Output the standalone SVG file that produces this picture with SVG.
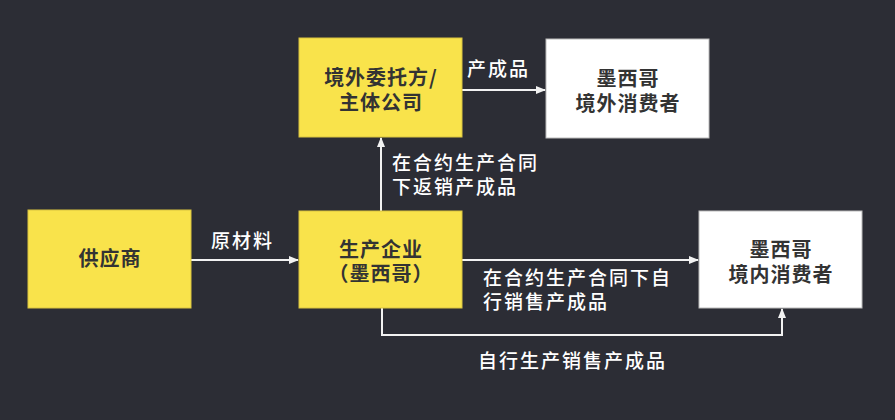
<svg xmlns="http://www.w3.org/2000/svg" width="895" height="420" viewBox="0 0 895 420">
<style>
.bg{fill:#2c2d35}
.y{fill:#f9e34b;stroke:#d9c440;stroke-width:1}
.w{fill:#ffffff;stroke:#bbbbbb;stroke-width:1}
.nt{font-family:"Noto Sans CJK SC","Noto Sans",sans-serif;font-size:20px;font-weight:bold;fill:#333333;text-anchor:middle;letter-spacing:1px}
.lb{font-family:"Noto Sans CJK SC","Noto Sans",sans-serif;font-size:19px;font-weight:500;fill:#ffffff;letter-spacing:2px}
.ln{fill:none;stroke:#f2f2f2;stroke-width:2}
</style>
<defs>
<marker id="ah" markerWidth="10" markerHeight="10" refX="9" refY="5" orient="auto" markerUnits="userSpaceOnUse">
<path d="M0,1 L10,5 L0,9 Z" fill="#f2f2f2"/>
</marker>
</defs>
<rect class="bg" x="0" y="0" width="895" height="420"/>
<g id="connectors">
<line class="ln" x1="191" y1="260" x2="298" y2="260" marker-end="url(#ah)"/>
<line class="ln" x1="381" y1="211" x2="381" y2="138" marker-end="url(#ah)"/>
<line class="ln" x1="462" y1="90" x2="545" y2="90" marker-end="url(#ah)"/>
<line class="ln" x1="462" y1="260" x2="698" y2="260" marker-end="url(#ah)"/>
<polyline class="ln" points="382,308 382,335 782,335 782,309" marker-end="url(#ah)"/>
<text class="lb" x="211" y="248">原材料</text>
<text class="lb" x="467" y="76">产成品</text>
<text class="lb" x="392" y="170">在合约生产合同</text>
<text class="lb" x="392" y="194">下返销产成品</text>
<text class="lb" x="483" y="285">在合约生产合同下自</text>
<text class="lb" x="483" y="309">行销售产成品</text>
<text class="lb" x="478" y="368">自行生产销售产成品</text>
</g>
<g id="supplier">
<rect class="y" x="28" y="210" width="163" height="98"/>
<text class="nt" x="110" y="266">供应商</text>
</g>
<g id="producer">
<rect class="y" x="299" y="211" width="163" height="97"/>
<text class="nt" x="381" y="257">生产企业</text>
<text class="nt" x="381" y="281">（墨西哥）</text>
</g>
<g id="overseas-principal">
<rect class="y" x="299" y="38" width="163" height="99"/>
<text class="nt" x="381" y="85">境外委托方/</text>
<text class="nt" x="381" y="110">主体公司</text>
</g>
<g id="overseas-consumer">
<rect class="w" x="546" y="39" width="163" height="99"/>
<text class="nt" x="628" y="86">墨西哥</text>
<text class="nt" x="628" y="111">境外消费者</text>
</g>
<g id="domestic-consumer">
<rect class="w" x="699" y="211" width="163" height="97"/>
<text class="nt" x="781" y="257">墨西哥</text>
<text class="nt" x="781" y="282">境内消费者</text>
</g>
</svg>
